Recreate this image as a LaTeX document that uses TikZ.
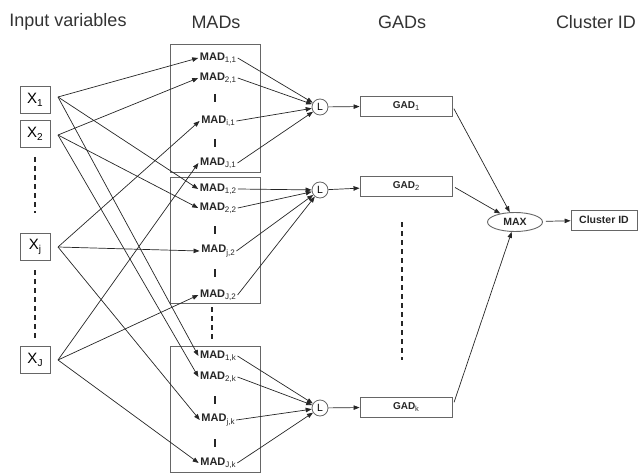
\documentclass[tikz,border=0pt]{standalone}
\usepackage{fontspec}
\setmainfont{Liberation Sans}
\usetikzlibrary{arrows.meta,shapes.geometric}
\newcommand{\sbs}[2][8]{\raisebox{-0.4ex}{\fontsize{#1}{#1}\selectfont\mdseries #2}}
\begin{document}
\begin{tikzpicture}[x=1pt,y=-1pt,
  conn/.style={draw=black!85, line width=0.7pt, -{Triangle[length=6pt,width=4.5pt]}},
  title/.style={font=\fontsize{18}{18}\selectfont, text=black!80},
  xbox/.style={draw=black!60, line width=0.9pt, minimum width=30pt, minimum height=27pt, inner sep=0pt, font=\fontsize{15}{15}\selectfont},
  mad/.style={inner sep=1.5pt, font=\bfseries\fontsize{11}{11}\selectfont, text=black!85},
  grp/.style={draw=black!60, line width=0.9pt},
  lnode/.style={draw=black!60, line width=0.8pt, circle, minimum size=16pt, inner sep=0pt, font=\fontsize{10.5}{10.5}\selectfont},
  gad/.style={draw=black!60, line width=0.9pt, minimum width=92pt, minimum height=20pt, inner sep=0pt, font=\bfseries\fontsize{10}{10}\selectfont, text=black!85},
  maxn/.style={draw=black!60, line width=0.9pt, ellipse, minimum width=55pt, minimum height=19pt, inner sep=0pt, font=\bfseries\fontsize{10.5}{10.5}\selectfont, text=black!85},
  dline/.style={draw=black!85, line width=1.1pt, dash pattern=on 5pt off 4pt},
  bar/.style={draw=black!85, line width=1.1pt}
]
\useasboundingbox (0,0) rectangle (639,473);
% titles
\node[title] (t1) at (68,22) {Input variables};
\node[title] (t2) at (216,22) {MADs};
\node[title] (t3) at (402,22) {GADs};
\node[title] (t4) at (596,22) {Cluster ID};
% input boxes
\node[xbox] (X1) at (35,99.5) {X\sbs[10]{1}};
\node[xbox] (X2) at (35,133.5) {X\sbs[10]{2}};
\node[xbox] (Xj) at (35,246.5) {X\sbs[10]{j}};
\node[xbox] (XJ) at (35,359.5) {X\sbs[10]{J}};
\coordinate (s1) at (58,97);
\coordinate (s2) at (58,135);
\coordinate (sj) at (58,247);
\coordinate (sJ) at (58,360);
\draw[dline] (35,157) -- (35,213);
\draw[dline] (35,270) -- (35,338);
% MAD group boxes
\draw[grp] (170,44) rectangle (260,172);
\draw[grp] (170,177) rectangle (260,303);
\draw[grp] (170,346) rectangle (260,472);
\draw[dline] (212,307) -- (212,340);
% MAD labels
\node[mad] (m11) at (218,58) {MAD\sbs{1,1}};
\node[mad] (m21) at (218,78) {MAD\sbs{2,1}};
\node[mad] (mj1) at (218,121) {MAD\sbs{i,1}};
\node[mad] (mJ1) at (218,163) {MAD\sbs{J,1}};
\node[mad] (m12) at (218,189) {MAD\sbs{1,2}};
\node[mad] (m22) at (218,208) {MAD\sbs{2,2}};
\node[mad] (mj2) at (218,251) {MAD\sbs{j,2}};
\node[mad] (mJ2) at (218,295) {MAD\sbs{J,2}};
\node[mad] (m1k) at (218,356) {MAD\sbs{1,k}};
\node[mad] (m2k) at (218,377) {MAD\sbs{2,k}};
\node[mad] (mjk) at (218,420) {MAD\sbs{j,k}};
\node[mad] (mJk) at (218,463) {MAD\sbs{J,k}};
% bars inside groups
\foreach \yy in {98,143,230,273,400,443}
  \draw[bar] (215,\yy-4) -- (215,\yy+4);
% L nodes
\node[lnode] (L1) at (320,107) {L};
\node[lnode] (L2) at (320,190) {L};
\node[lnode] (Lk) at (320,408) {L};
% GADs
\node[gad] (g1) at (406,106) {GAD\sbs[7.5]{1}};
\node[gad] (g2) at (406,186) {GAD\sbs[7.5]{2}};
\node[gad] (gk) at (406,407) {GAD\sbs[7.5]{k}};
\draw[dline] (402,222) -- (402,360);
% MAX and cluster
\node[maxn] (max) at (515,222) {MAX};
\node[gad, minimum width=66pt, font=\bfseries\fontsize{10.5}{10.5}\selectfont] (cid) at (604,220) {Cluster ID};
% input connections
\foreach \s/\a/\b/\c in {s1/m11/m12/m1k, s2/m21/m22/m2k, sj/mj1/mj2/mjk, sJ/mJ1/mJ2/mJk} {
  \draw[conn] (\s) -- (\a.west);
  \draw[conn] (\s) -- (\b.west);
  \draw[conn] (\s) -- (\c.west);
}
% MAD to L
\foreach \m in {m11,m21,mj1,mJ1} \draw[conn] (\m.east) -- (L1);
\foreach \m in {m12,m22,mj2,mJ2} \draw[conn] (\m.east) -- (L2);
\foreach \m in {m1k,m2k,mjk,mJk} \draw[conn] (\m.east) -- (Lk);
% L to GAD
\draw[conn] (L1) -- (g1);
\draw[conn] (L2) -- (g2);
\draw[conn] (Lk) -- (gk);
% GAD to MAX
\draw[conn, shorten <=3pt] (g1.east) -- (max);
\draw[conn, shorten <=3pt] (g2.east) -- (max);
\draw[conn, shorten <=5pt] (gk.east) -- (max);
\draw[conn, shorten <=3pt] (max) -- (cid);
\end{tikzpicture}
\end{document}
